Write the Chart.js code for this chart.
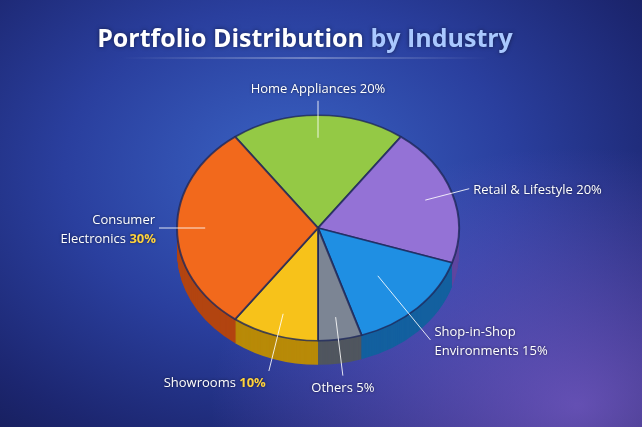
<!DOCTYPE html>
<html><head><meta charset="utf-8">
<script src="https://cdn.jsdelivr.net/npm/chart.js@4"></script>
<style>
html,body{margin:0;padding:0;width:642px;height:427px;overflow:hidden;
background:radial-gradient(ellipse at 45% 40%,#3a63c4 0%,#2a3f9e 45%,#1c2670 80%,#151c55 100%);}
#wrap{position:absolute;left:0;top:0;width:642px;height:427px;}
#glow{position:absolute;left:0;top:0;width:642px;height:427px;background:radial-gradient(ellipse at 90% 95%,rgba(150,110,230,0.6),rgba(150,110,230,0) 45%);}
</style></head><body>
<div id="glow"></div>
<div id="wrap"><canvas id="c" width="642" height="427"></canvas></div>
<script>
const categories=["Home Appliances","Retail & Lifestyle","Shop-in-Shop Environments","Others","Showrooms","Consumer Electronics"];
const values=[20,20,15,5,10,30];
const colors=["#94c945","#9472d6","#1f8fe3","#7c8594","#f7c21a","#f2691c"];
const darks=["#5f8a22","#5f46a0","#13609f","#50565f","#b88a08","#b24410"];
const labelLines=[["Home Appliances 20%"],["Retail & Lifestyle 20%"],["Shop-in-Shop","Environments 15%"],["Others 5%"],["Showrooms 10%"],["Consumer","Electronics 30%"]];
const yellowPct=[false,false,false,false,true,true];
const SY=0.8;
function squash(ctx,a){ctx.translate(a.x,a.y);ctx.scale(1,SY);ctx.translate(-a.x,-a.y);}
const depth={id:'depth',beforeDatasetsDraw(ch){
  const ctx=ch.ctx;const arcs=ch.getDatasetMeta(0).data;
  for(let d=24;d>0;d--){arcs.forEach((a,i)=>{ctx.save();ctx.translate(0,d);squash(ctx,a);ctx.beginPath();ctx.moveTo(a.x,a.y);
    ctx.arc(a.x,a.y,a.outerRadius,a.startAngle,a.endAngle);ctx.closePath();ctx.fillStyle=darks[i];ctx.fill();ctx.restore();});}
  ctx.save();squash(ctx,arcs[0]);
},afterDatasetsDraw(ch){ch.ctx.restore();}};
const labels={id:'lbls',afterDraw(ch){
  const ctx=ch.ctx;const arcs=ch.getDatasetMeta(0).data;
  ctx.save();
  ctx.font='bold 25px "Open Sans"';ctx.textBaseline='alphabetic';
  const t1="Portfolio Distribution ",t2="by Industry";
  const w1=ctx.measureText(t1).width,w2=ctx.measureText(t2).width;let x0=305-(w1+w2)/2;
  ctx.shadowColor='rgba(0,0,0,0.5)';ctx.shadowBlur=4;
  ctx.fillStyle='#fff';ctx.fillText(t1,x0,47);ctx.fillStyle='#a9c8ff';ctx.fillText(t2,x0+w1,47);
  ctx.shadowBlur=0;
  const g=ctx.createLinearGradient(120,0,490,0);g.addColorStop(0,'rgba(255,255,255,0)');g.addColorStop(0.5,'rgba(255,255,255,0.6)');g.addColorStop(1,'rgba(255,255,255,0)');
  ctx.strokeStyle=g;ctx.lineWidth=1;ctx.beginPath();ctx.moveTo(120,58);ctx.lineTo(490,58);ctx.stroke();
  ctx.font='13px "Open Sans"';
  arcs.forEach((a,i)=>{
    const m=(a.startAngle+a.endAngle)/2;const r=a.outerRadius;
    const inner=(i===2)?r*0.6:r*0.8;
    const sx=a.x+Math.cos(m)*inner,sy=a.y+Math.sin(m)*inner*SY;
    const ex=a.x+Math.cos(m)*(r+18),ey=a.y+Math.sin(m)*(r+18)*SY+(Math.sin(m)>0.3?22:0);
    ctx.strokeStyle='rgba(255,255,255,0.85)';ctx.lineWidth=1;ctx.beginPath();ctx.moveTo(sx,sy);ctx.lineTo(ex,ey);ctx.stroke();
    const lines=labelLines[i];const right=Math.cos(m)>0.3,left=Math.cos(m)<-0.3;
    ctx.textAlign=right?'left':left?'right':'center';
    const tx=ex+(right?4:left?-4:0);
    let ty=ey-(lines.length-1)*9+5;if(Math.sin(m)<-0.8)ty=ey-8;if(Math.sin(m)>0.8)ty=ey+16;
    ctx.shadowColor='rgba(0,0,0,0.6)';ctx.shadowBlur=3;
    lines.forEach((ln,k)=>{
      const mt=ln.match(/^(.*?)(\d+%)$/);
      if(mt&&yellowPct[i]){
        const wa=ctx.measureText(mt[1]).width,wb=ctx.measureText(mt[2]).width;
        let bx=ctx.textAlign==='left'?tx:ctx.textAlign==='right'?tx-wa-wb:tx-(wa+wb)/2;
        const al=ctx.textAlign;ctx.textAlign='left';
        ctx.fillStyle='#fff';ctx.fillText(mt[1],bx,ty+k*19);ctx.fillStyle='#ffd23c';ctx.font='bold 13px "Open Sans"';ctx.fillText(mt[2],bx+wa,ty+k*19);ctx.font='13px "Open Sans"';
        ctx.textAlign=al;
      }else{ctx.fillStyle='#fff';ctx.fillText(ln,tx,ty+k*19);}
    });
    ctx.shadowBlur=0;
  });
  ctx.restore();
}};
new Chart(document.getElementById('c'),{type:'pie',
 data:{labels:categories,datasets:[{data:values,backgroundColor:colors,borderColor:'rgba(30,40,90,0.8)',borderWidth:2}]},
 options:{responsive:false,animation:false,rotation:-36,
  layout:{padding:{top:86,bottom:57,left:176,right:182}},
  plugins:{legend:{display:false},tooltip:{enabled:false}}},
 plugins:[depth,labels]});
</script></body></html>
